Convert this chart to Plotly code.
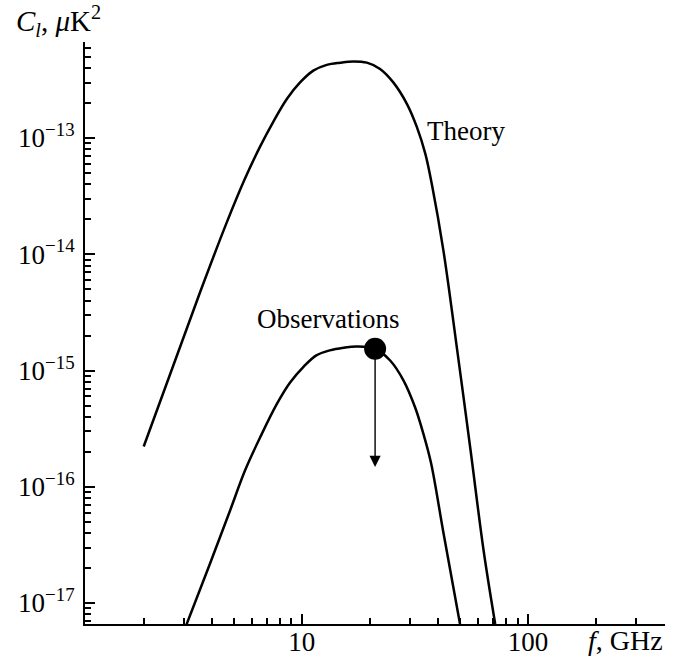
import numpy as np
import plotly.graph_objects as go

# ---- data ----
theory_f = [2.0, 3.55, 4.66, 5.61, 6.54, 7.48, 8.59, 9.83, 11.25, 12.9, 14.8, 16.9, 19.4,
            22.2, 25.4, 29.2, 32.3, 35.2, 37.7, 42.3, 48.7, 55.8, 63.7, 71.7]
theory_c = [2.22e-16, 4.71e-15, 1.88e-14, 4.48e-14, 8.43e-14, 1.38e-13, 2.17e-13, 3.01e-13,
            3.80e-13, 4.26e-13, 4.45e-13, 4.56e-13, 4.45e-13, 3.93e-13, 3.01e-13, 1.96e-13,
            1.24e-13, 7.30e-14, 3.90e-14, 1.08e-14, 1.49e-15, 2.05e-16, 2.83e-17, 6.6e-18]

obs_f = [3.08, 3.93, 4.82, 5.61, 6.54, 7.74, 8.88, 10.2, 11.6, 13.3, 15.3, 17.5, 21.1,
         24.6, 28.2, 31.7, 34.5, 37.3, 42.4, 50.1]
obs_c = [6.4e-18, 2.19e-17, 6.25e-17, 1.38e-16, 2.65e-16, 5.11e-16, 7.88e-16, 1.08e-15,
         1.35e-15, 1.49e-15, 1.57e-15, 1.61e-15, 1.54e-15, 1.22e-15, 8.20e-16, 4.83e-16,
         2.86e-16, 1.60e-16, 3.94e-17, 6.6e-18]

point_f = [21.1]
point_c = [1.54e-15]
upper_limit_arrow_to = 1.48e-16

x_range = [1.1, 404]
y_range = [6.6e-18, 6.7e-13]
x_major = [10, 100]
x_major_text = ["10", "100"]
x_minor = [2, 3, 4, 5, 6, 7, 8, 9, 20, 30, 40, 50, 60, 70, 80, 90, 200, 300, 400]
y_major = [1e-13, 1e-14, 1e-15, 1e-16, 1e-17]
y_major_text = ["10<sup>\u221213</sup>", "10<sup>\u221214</sup>", "10<sup>\u221215</sup>",
                "10<sup>\u221216</sup>", "10<sup>\u221217</sup>"]
y_minor = [k * 10.0 ** d for d in range(-18, -12) for k in range(2, 10)]

FONT = "Liberation Serif, Times New Roman, serif"

fig = go.Figure()
fig.add_trace(go.Scatter(x=theory_f, y=theory_c, mode="lines",
                         line=dict(color="black", width=2.5, shape="spline", smoothing=1.0),
                         showlegend=False, hoverinfo="skip"))
fig.add_trace(go.Scatter(x=obs_f, y=obs_c, mode="lines",
                         line=dict(color="black", width=2.5, shape="spline", smoothing=1.0),
                         showlegend=False, hoverinfo="skip"))
fig.add_trace(go.Scatter(x=point_f, y=point_c, mode="markers",
                         marker=dict(color="black", size=22),
                         showlegend=False, hoverinfo="skip"))

# upper-limit arrow
fig.add_annotation(x=np.log10(point_f[0]), y=np.log10(upper_limit_arrow_to),
                   ax=np.log10(point_f[0]), ay=np.log10(point_c[0]),
                   xref="x", yref="y", axref="x", ayref="y",
                   text="", showarrow=True, arrowhead=2, arrowsize=1.6,
                   arrowwidth=1.4, arrowcolor="black")

fig.add_annotation(x=np.log10(35.2), y=np.log10(1.16e-13), xref="x", yref="y",
                   text="Theory", showarrow=False, xanchor="left", yanchor="middle",
                   font=dict(family=FONT, size=27, color="black"))
fig.add_annotation(x=np.log10(13.0), y=np.log10(2.8e-15), xref="x", yref="y",
                   text="Observations", showarrow=False, xanchor="center", yanchor="middle",
                   font=dict(family=FONT, size=27, color="black"))

# axis titles
fig.add_annotation(x=1.0, y=0, xref="paper", yref="paper", yshift=-16,
                   text="<i>f</i>, GHz", showarrow=False, xanchor="right", yanchor="middle",
                   font=dict(family=FONT, size=28, color="black"))
fig.add_annotation(x=-0.122, y=1.0, xref="paper", yref="paper", yshift=-1,
                   text="<i>C</i><sub><i>l</i></sub>, <i>\u03bc</i>K<sup>2</sup>",
                   showarrow=False, xanchor="left", yanchor="bottom",
                   font=dict(family=FONT, size=29, color="black"))

fig.update_xaxes(type="log", range=[np.log10(x_range[0]), np.log10(x_range[1])],
                 showgrid=False, zeroline=False, showline=True, linecolor="black", linewidth=2,
                 tickmode="array", tickvals=x_major, ticktext=x_major_text,
                 ticks="inside", ticklen=10, tickwidth=1.8, tickcolor="black",
                 tickfont=dict(family=FONT, size=27, color="black"),
                 ticklabelstandoff=-7,
                 minor=dict(tickmode="array", tickvals=x_minor, ticks="inside", ticklen=6,
                            tickwidth=1.5, tickcolor="black", showgrid=False),
                 automargin=False)
fig.update_yaxes(type="log", range=[np.log10(y_range[0]), np.log10(y_range[1])],
                 showgrid=False, zeroline=False, showline=True, linecolor="black", linewidth=2,
                 tickmode="array", tickvals=y_major, ticktext=y_major_text,
                 ticks="inside", ticklen=10, tickwidth=1.8, tickcolor="black",
                 tickfont=dict(family=FONT, size=27, color="black"),
                 ticklabelstandoff=3,
                 minor=dict(tickmode="array", tickvals=y_minor, ticks="inside", ticklen=6,
                            tickwidth=1.5, tickcolor="black", showgrid=False),
                 automargin=False)

fig.update_layout(width=674, height=660, margin=dict(l=85, r=9, t=42, b=36),
                  plot_bgcolor="white", paper_bgcolor="white",
                  font=dict(family=FONT, color="black"))

fig.write_html("out.html")
